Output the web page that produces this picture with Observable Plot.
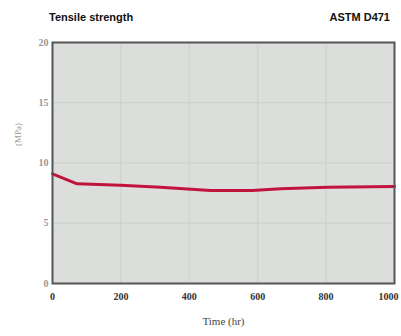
<!DOCTYPE html>
<html><head><meta charset="utf-8">
<script src="https://cdn.jsdelivr.net/npm/d3@7"></script>
<script src="https://cdn.jsdelivr.net/npm/@observablehq/plot@0.6"></script>
<style>
body{margin:0;background:#fff;width:401px;}
#hdr{position:relative;height:30px;font-family:"Liberation Sans",Arial,sans-serif;font-weight:bold;font-size:11px;color:#111;}
#hdr .l{position:absolute;left:49px;top:11px;}
#hdr .r{position:absolute;right:11px;top:11px;}
</style></head><body>
<div id="hdr"><span class="l">Tensile strength</span><span class="r">ASTM D471</span></div>
<div id="chart"></div>
<script>
const time = [0, 72, 199, 316, 462, 584, 667, 803, 1000];
const strength = [9.1, 8.27, 8.16, 7.99, 7.72, 7.72, 7.86, 7.99, 8.05];
const xTicks = [0, 200, 400, 600, 800, 1000];
const yTicks = [0, 5, 10, 15, 20];
const data = time.map((t, i) => ({t, v: strength[i]}));
const fmt = d3.format("d");

const plot = Plot.plot({
  width: 401, height: 306,
  marginTop: 12, marginBottom: 53, marginLeft: 52, marginRight: 7,
  style: {fontFamily: "'Liberation Serif', serif", fontSize: "10px", background: "#fff"},
  x: {domain: [0, 1000], label: null},
  y: {domain: [0, 20], label: null},
  marks: [
    Plot.frame({fill: "#dcdedc"}),
    Plot.gridX(xTicks.slice(1, -1), {stroke: "#cdcfcd", strokeOpacity: 1, strokeWidth: 1}),
    Plot.gridY(yTicks.slice(1, -1), {stroke: "#cdcfcd", strokeOpacity: 1, strokeWidth: 1}),
    Plot.axisY(yTicks, {tickSize: 0, tickPadding: 4, fill: "#999", fontWeight: "bold", label: null}),
    Plot.axisX(xTicks.slice(0, -1), {tickSize: 0, tickPadding: 9, fill: "#333", fontWeight: "bold", tickFormat: fmt, label: null}),
    Plot.axisX(xTicks.slice(-1), {tickSize: 0, tickPadding: 9, fill: "#333", fontWeight: "bold", tickFormat: fmt, dx: -6, label: null}),
    Plot.line(data, {x: "t", y: "v", stroke: "#c0143c", strokeWidth: 3}),
    Plot.frame({stroke: "#555", strokeWidth: 2}),
    Plot.text(["Time (hr)"], {frameAnchor: "bottom", dy: 41, fill: "#444", fontSize: 11}),
    Plot.text(["(MPa)"], {frameAnchor: "left", dx: -34, dy: -17, rotate: -90, fill: "#999", fontSize: 9})
  ]
});
document.getElementById("chart").append(plot);
</script>
</body></html>
